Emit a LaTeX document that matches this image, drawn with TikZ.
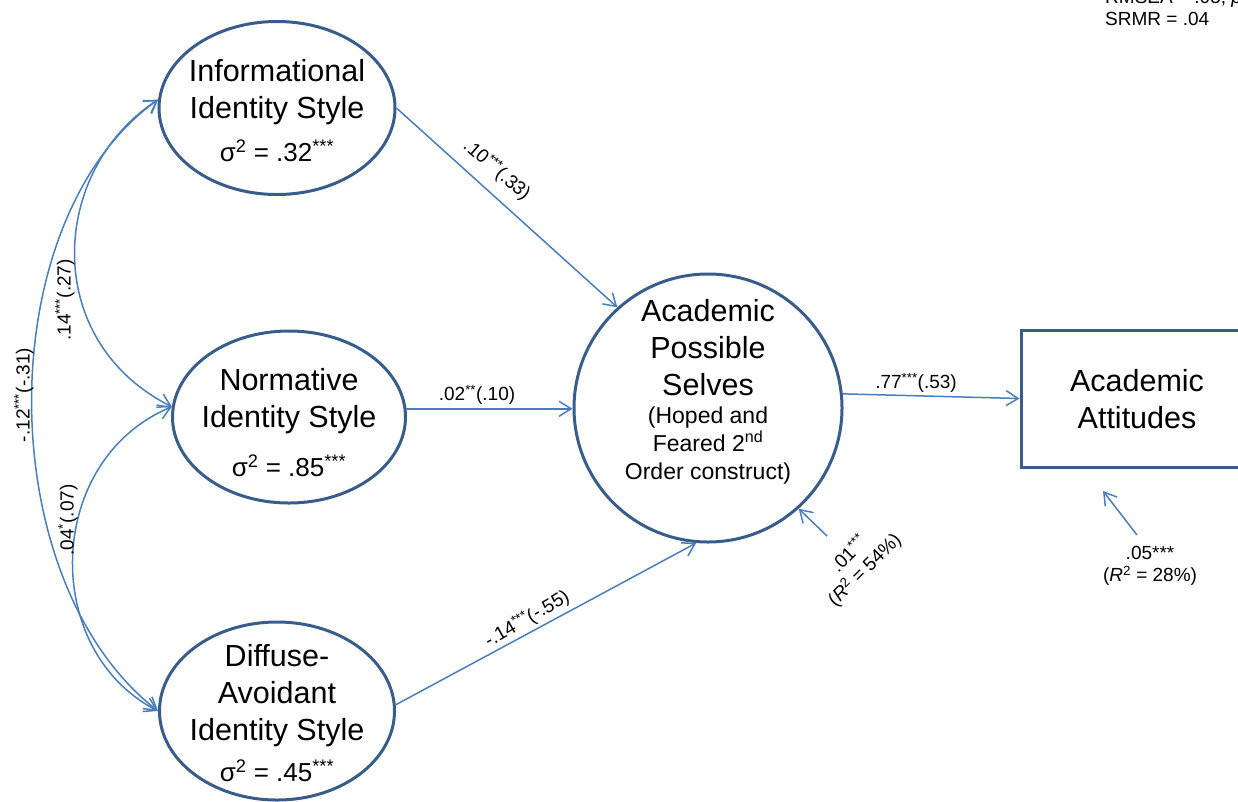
\documentclass[tikz,border=0pt]{standalone}
\usepackage{fontspec}
\setmainfont{Liberation Sans}
\usetikzlibrary{shapes.geometric,arrows.meta}

\definecolor{edgeblue}{HTML}{385D8A}
\definecolor{linkblue}{HTML}{4A7EBB}

\newcommand{\varline}[1]{{\fontsize{26}{30}\selectfont σ\textsuperscript{2} = #1\textsuperscript{***}}}

\begin{document}
\begin{tikzpicture}[x=1pt,y=-1pt,
  latent/.style={ellipse, draw=edgeblue, line width=3pt, inner sep=0pt},
  observed/.style={rectangle, draw=edgeblue, line width=3pt, inner sep=0pt},
  bigtext/.style={font=\fontsize{30.5}{37}\selectfont, align=center, inner sep=0pt},
  smalltext/.style={font=\fontsize{23}{28}\selectfont, align=center, inner sep=0pt},
  coef/.style={font=\fontsize{19}{22}\selectfont, align=center, inner sep=0pt},
  link/.style={draw=linkblue, line width=1.5pt, -{Straight Barb[length=12pt,width=15pt]}},
  covar/.style={draw=linkblue, line width=1.5pt,
    {Straight Barb[length=12pt,width=15pt]}-{Straight Barb[length=12pt,width=15pt]}}
]
\useasboundingbox (0,0) rectangle (1238,801);

% latent identity styles
\node[latent, minimum width=236pt, minimum height=173pt] (inf) at (277,108) {};
\node[bigtext] (inf-t) at (277,111)
  {Informational\\Identity Style\\[6pt]\varline{.32}};

\node[latent, minimum width=233pt, minimum height=172pt] (norm) at (289,417) {};
\node[bigtext] (norm-t) at (289,423)
  {Normative\\Identity Style\\[12pt]\varline{.85}};

\node[latent, minimum width=235pt, minimum height=178pt] (diff) at (277,711) {};
\node[bigtext] (diff-t) at (277,713)
  {Diffuse-\\Avoidant\\Identity Style\\[4pt]\varline{.45}};

% second order construct
\node[latent, minimum width=268pt, minimum height=268pt] (aps) at (708,408) {};
\node[bigtext] (aps-t) at (708,348) {Academic\\Possible\\Selves};
\node[smalltext] (aps-s) at (708,446) {(Hoped and\\Feared 2\textsuperscript{nd}\\Order construct)};

% outcome
\node[observed, minimum width=232pt, minimum height=137pt] (att) at (1137,398.5) {};
\node[bigtext] (att-t) at (1137,399) {Academic\\Attitudes};

% fit indices
\node[coef, anchor=base west] (fit1) at (1105,3) {RMSEA = .05, \textit{p}};
\node[coef, anchor=base west] (fit2) at (1105,25) {SRMR = .04};

% structural paths
\draw[link] (inf.east) -- (aps.132);
\node[coef, rotate=-41] (l-inf) at (497,170) {.10\textsuperscript{***}(.33)};

\draw[link] (norm.4) -- (norm.4 -| aps.west);
\node[coef] (l-norm) at (477,395) {.02\textsuperscript{**}(.10)};

\draw[link] (diff.3) -- (aps.-95);
\node[coef, rotate=30] (l-diff) at (527,619) {-.14\textsuperscript{***}(-.55)};

\draw[link] (aps.6) -- (att.west);
\node[coef] (l-att) at (916,383) {.77\textsuperscript{***}(.53)};

% residual terms
\coordinate (e1) at (827,536);
\draw[link] (e1) -- (aps.-48);
\node[coef, rotate=45] (l-e1) at (857,562) {.01\textsuperscript{***}\\(\textit{R}\textsuperscript{2} = 54\%)};

\coordinate (e2) at (1137,535);
\coordinate (e2end) at (1103,491);
\draw[link] (e2) -- (e2end);
\node[coef] (l-e2) at (1150,566) {.05***\\(\textit{R}\textsuperscript{2} = 28\%)};

% covariances among identity styles
\draw[covar] (inf.176) .. controls (50,170) and (40,340) .. (norm.175);
\node[coef, rotate=90] (c-in) at (65,300) {.14\textsuperscript{***}(.27)};

\draw[covar] (norm.175) .. controls (45,460) and (40,650) .. (diff.west);
\node[coef, rotate=90] (c-nd) at (68,520) {.04\textsuperscript{*}(.07)};

\draw[covar] (inf.176) .. controls (-10,220) and (-10,580) .. (diff.west);
\node[coef, rotate=90] (c-id) at (24,395) {-.12\textsuperscript{***}(-.31)};
\end{tikzpicture}
\end{document}
